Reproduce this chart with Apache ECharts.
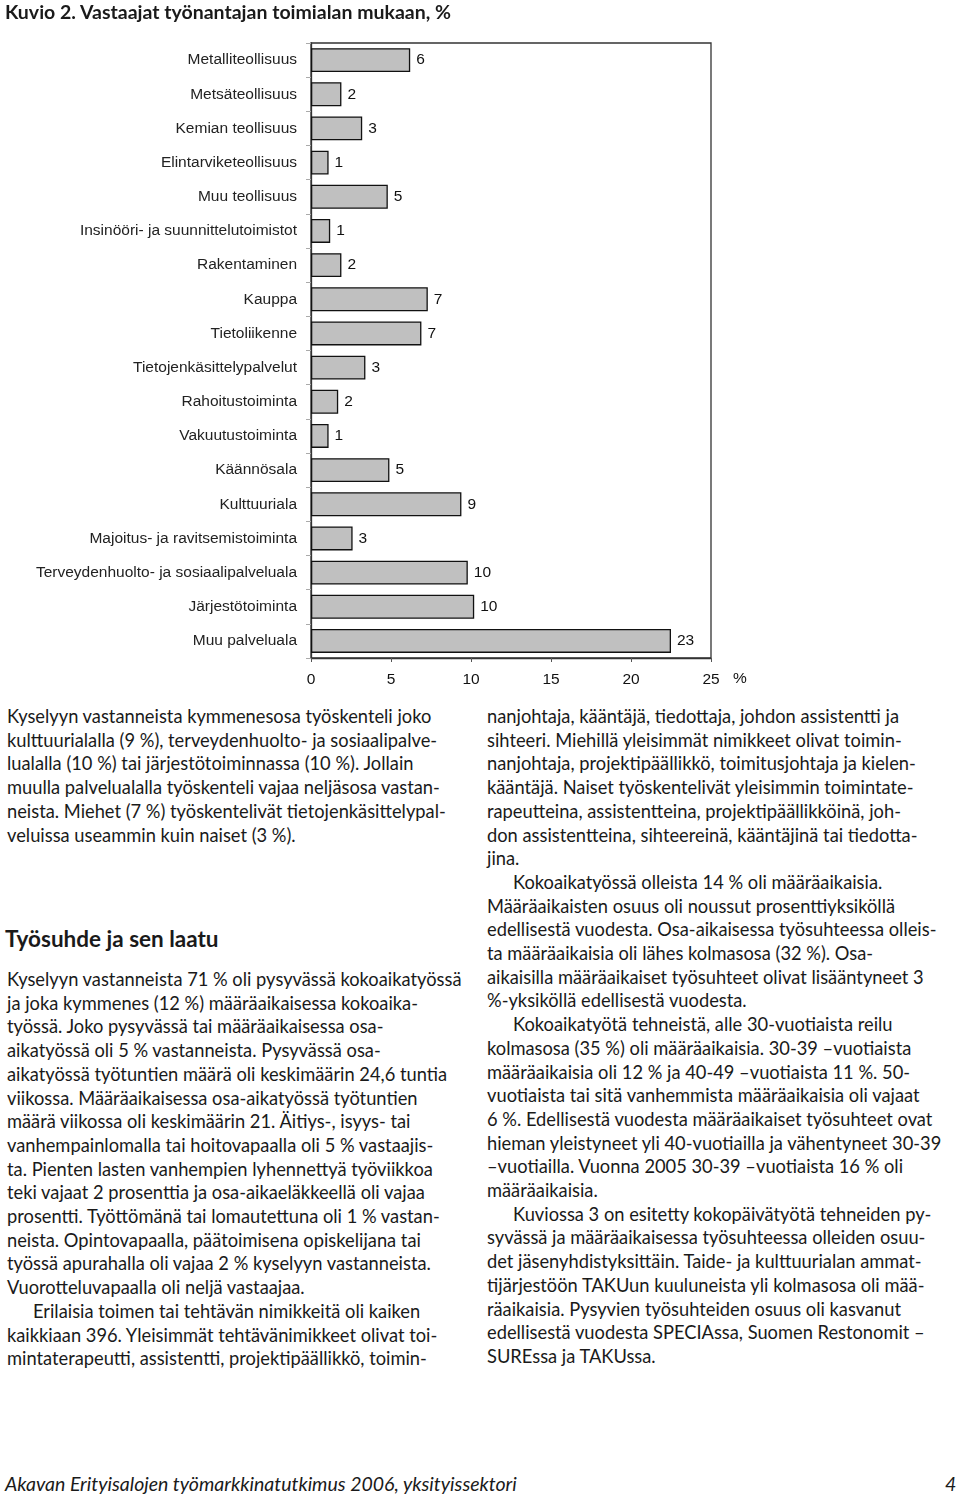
<!DOCTYPE html>
<html>
<head>
<meta charset="utf-8">
<script src="https://cdn.jsdelivr.net/npm/echarts@6/dist/echarts.min.js"></script>
<style>
  html, body { margin:0; padding:0; background:#fff; }
  body { width:960px; height:1501px; position:relative; overflow:hidden; }
  #chart { position:absolute; left:0; top:0; width:960px; height:700px; z-index:0; }
  .t { position:absolute; font-family: Lato, "Open Sans", sans-serif; color:#1a1a1a; z-index:2; white-space:nowrap; }
  .col { position:absolute; font-family: Lato, "Open Sans", sans-serif; font-size:18.3px; line-height:23.7px; color:#1a1a1a; white-space:nowrap; z-index:2; }
  .ind { padding-left:26px; }
</style>
</head>
<body>
<div id="chart"></div>
<div class="t" style="left:5px; top:0px; font-size:19.5px; font-weight:bold;">Kuvio 2. Vastaajat työnantajan toimialan mukaan, %</div>

<div class="col" style="left:7px; top:705px;">
<div>Kyselyyn vastanneista kymmenesosa työskenteli joko</div>
<div>kulttuurialalla (9 %), terveydenhuolto- ja sosiaalipalve-</div>
<div>lualalla (10 %) tai järjestötoiminnassa (10 %). Jollain</div>
<div>muulla palvelualalla työskenteli vajaa neljäsosa vastan-</div>
<div>neista. Miehet (7 %) työskentelivät tietojenkäsittelypal-</div>
<div>veluissa useammin kuin naiset (3 %).</div>
</div>

<div class="t" style="left:5px; top:925px; font-size:22.5px; font-weight:bold;">Työsuhde ja sen laatu</div>

<div class="col" style="left:7px; top:968px;">
<div>Kyselyyn vastanneista 71 % oli pysyvässä kokoaikatyössä</div>
<div>ja joka kymmenes (12 %) määräaikaisessa kokoaika-</div>
<div>työssä. Joko pysyvässä tai määräaikaisessa osa-</div>
<div>aikatyössä oli 5 % vastanneista. Pysyvässä osa-</div>
<div>aikatyössä työtuntien määrä oli keskimäärin 24,6 tuntia</div>
<div>viikossa. Määräaikaisessa osa-aikatyössä työtuntien</div>
<div>määrä viikossa oli keskimäärin 21. Äitiys-, isyys- tai</div>
<div>vanhempainlomalla tai hoitovapaalla oli 5 % vastaajis-</div>
<div>ta. Pienten lasten vanhempien lyhennettyä työviikkoa</div>
<div>teki vajaat 2 prosenttia ja osa-aikaeläkkeellä oli vajaa</div>
<div>prosentti. Työttömänä tai lomautettuna oli 1 % vastan-</div>
<div>neista. Opintovapaalla, päätoimisena opiskelijana tai</div>
<div>työssä apurahalla oli vajaa 2 % kyselyyn vastanneista.</div>
<div>Vuorotteluvapaalla oli neljä vastaajaa.</div>
<div class="ind">Erilaisia toimen tai tehtävän nimikkeitä oli kaiken</div>
<div>kaikkiaan 396. Yleisimmät tehtävänimikkeet olivat toi-</div>
<div>mintaterapeutti, assistentti, projektipäällikkö, toimin-</div>
</div>

<div class="col" style="left:487px; top:705px;">
<div>nanjohtaja, kääntäjä, tiedottaja, johdon assistentti ja</div>
<div>sihteeri. Miehillä yleisimmät nimikkeet olivat toimin-</div>
<div>nanjohtaja, projektipäällikkö, toimitusjohtaja ja kielen-</div>
<div>kääntäjä. Naiset työskentelivät yleisimmin toimintate-</div>
<div>rapeutteina, assistentteina, projektipäällikköinä, joh-</div>
<div>don assistentteina, sihteereinä, kääntäjinä tai tiedotta-</div>
<div>jina.</div>
<div class="ind">Kokoaikatyössä olleista 14 % oli määräaikaisia.</div>
<div>Määräaikaisten osuus oli noussut prosenttiyksiköllä</div>
<div>edellisestä vuodesta. Osa-aikaisessa työsuhteessa olleis-</div>
<div>ta määräaikaisia oli lähes kolmasosa (32 %). Osa-</div>
<div>aikaisilla määräaikaiset työsuhteet olivat lisääntyneet 3</div>
<div>%-yksiköllä edellisestä vuodesta.</div>
<div class="ind">Kokoaikatyötä tehneistä, alle 30-vuotiaista reilu</div>
<div>kolmasosa (35 %) oli määräaikaisia. 30-39 –vuotiaista</div>
<div>määräaikaisia oli 12 % ja 40-49 –vuotiaista 11 %. 50-</div>
<div>vuotiaista tai sitä vanhemmista määräaikaisia oli vajaat</div>
<div>6 %. Edellisestä vuodesta määräaikaiset työsuhteet ovat</div>
<div>hieman yleistyneet yli 40-vuotiailla ja vähentyneet 30-39</div>
<div>–vuotiailla. Vuonna 2005 30-39 –vuotiaista 16 % oli</div>
<div>määräaikaisia.</div>
<div class="ind">Kuviossa 3 on esitetty kokopäivätyötä tehneiden py-</div>
<div>syvässä ja määräaikaisessa työsuhteessa olleiden osuu-</div>
<div>det jäsenyhdistyksittäin. Taide- ja kulttuurialan ammat-</div>
<div>tijärjestöön TAKUun kuuluneista yli kolmasosa oli mää-</div>
<div>räaikaisia. Pysyvien työsuhteiden osuus oli kasvanut</div>
<div>edellisestä vuodesta SPECIAssa, Suomen Restonomit –</div>
<div>SUREssa ja TAKUssa.</div>
</div>

<div class="t" style="left:5px; top:1472px; font-size:19.5px; font-style:italic;">Akavan Erityisalojen työmarkkinatutkimus 2006, yksityissektori</div>
<div class="t" style="left:945px; top:1472px; font-size:19.5px; font-style:italic;">4</div>

<script>
const categories = [
  'Metalliteollisuus', 'Metsäteollisuus', 'Kemian teollisuus', 'Elintarviketeollisuus',
  'Muu teollisuus', 'Insinööri- ja suunnittelutoimistot', 'Rakentaminen', 'Kauppa',
  'Tietoliikenne', 'Tietojenkäsittelypalvelut', 'Rahoitustoiminta', 'Vakuutustoiminta',
  'Käännösala', 'Kulttuuriala', 'Majoitus- ja ravitsemistoiminta',
  'Terveydenhuolto- ja sosiaalipalveluala', 'Järjestötoiminta', 'Muu palveluala'
];
const values = [6.2, 1.9, 3.2, 1.1, 4.8, 1.2, 1.9, 7.3, 6.9, 3.4, 1.7, 1.1, 4.9, 9.4, 2.6, 9.8, 10.2, 22.5];
const xMin = 0, xMax = 25, xStep = 5;

const FONT = 'Liberation Sans, Arial, sans-serif';
const chart = echarts.init(document.getElementById('chart'), null, { renderer: 'canvas' });
chart.setOption({
  animation: false,
  backgroundColor: 'transparent',
  grid: { left: 311, top: 43, width: 400, height: 615, show: true, borderColor: '#333', borderWidth: 1.3, containLabel: false },
  xAxis: {
    type: 'value', min: xMin, max: xMax, interval: xStep,
    axisLine: { show: true, lineStyle: { color: '#333', width: 1.3 } },
    axisTick: { show: true, length: 4, lineStyle: { color: '#555' } },
    axisLabel: { color: '#111', fontSize: 15.5, fontFamily: FONT, margin: 14 },
    splitLine: { show: false }
  },
  yAxis: {
    type: 'category', data: categories, inverse: true,
    axisLine: { show: true, lineStyle: { color: '#333', width: 1.3 } },
    axisTick: { show: true, length: 5, lineStyle: { color: '#aaa' } },
    axisLabel: { color: '#222', fontSize: 15.5, fontFamily: FONT, margin: 14 }
  },
  graphic: [{
    type: 'text', left: 733, top: 671,
    style: { text: '%', fontSize: 15.5, fontFamily: FONT, fill: '#111' }
  }],
  series: [{
    type: 'bar', data: values, barWidth: '70%',
    itemStyle: { color: '#c0c0c0', borderColor: '#111', borderWidth: 1.3 },
    label: {
      show: true, position: 'right', distance: 6, color: '#111', fontSize: 15.5,
      fontFamily: FONT,
      formatter: p => String(Math.round(p.value))
    }
  }]
});
</script>
</body>
</html>
